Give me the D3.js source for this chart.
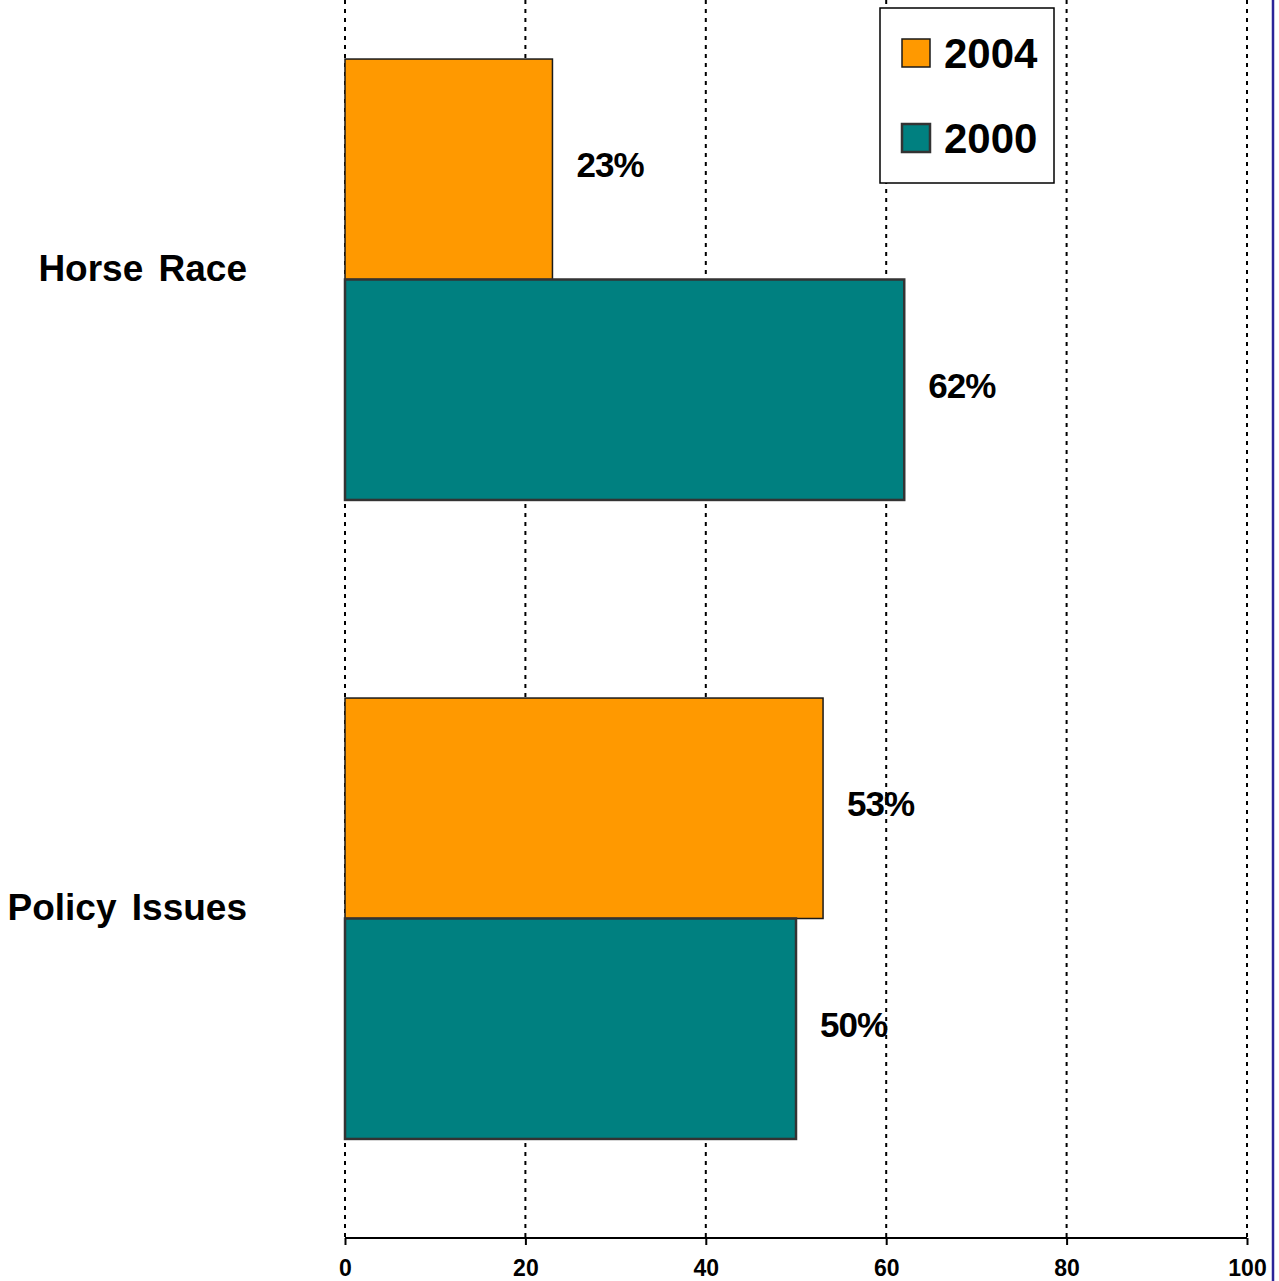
<!DOCTYPE html>
<html><head><meta charset="utf-8">
<script src="https://cdn.jsdelivr.net/npm/d3@7/dist/d3.min.js"></script>
<style>
html,body{margin:0;padding:0;background:#fff;}
svg{display:block;font-family:Arial,"Liberation Sans",Helvetica,sans-serif;}
</style></head>
<body>
<svg id="c" width="1279" height="1281"></svg>
<script>
const categories = ["Horse Race", "Policy Issues"];
const seriesNames = ["2004", "2000"];
const values2004 = [23, 53];
const values2000 = [62, 50];
const labels2004 = ["23%", "53%"];
const labels2000 = ["62%", "50%"];
const tickValues = [0, 20, 40, 60, 80, 100];
const colors = {"2004": "#FF9900", "2000": "#008080"};
const strokes = {"2004": "#1a1a1a", "2000": "#333333"};
const strokeW = {"2004": 1.5, "2000": 2.5};

const svg = d3.select("#c");
const x = d3.scaleLinear().domain([0, 100]).range([345, 1247]);
const y = d3.scaleBand().domain(categories).range([-40, 1238]).paddingInner(0.31).paddingOuter(0.155);
const ys = d3.scaleBand().domain(seriesNames).range([0, y.bandwidth()]);

// gridlines
svg.append("g").selectAll("line").data(tickValues).join("line")
  .attr("x1", d => x(d)).attr("x2", d => x(d))
  .attr("y1", 0).attr("y2", 1238)
  .attr("stroke", "#000").attr("stroke-width", 2).attr("stroke-dasharray", "4,5");

// right border line
svg.append("line").attr("x1", 1273).attr("x2", 1273).attr("y1", 0).attr("y2", 1281)
  .attr("stroke", "#2b2399").attr("stroke-width", 2.5);

const data = [];
categories.forEach((c, i) => {
  data.push({cat: c, s: "2004", v: values2004[i], lab: labels2004[i]});
  data.push({cat: c, s: "2000", v: values2000[i], lab: labels2000[i]});
});

svg.append("g").selectAll("rect").data(data).join("rect")
  .attr("x", x(0)).attr("y", d => y(d.cat) + ys(d.s))
  .attr("width", d => x(d.v) - x(0)).attr("height", ys.bandwidth())
  .attr("fill", d => colors[d.s]).attr("stroke", d => strokes[d.s]).attr("stroke-width", d => strokeW[d.s]);

svg.append("g").selectAll("text").data(data).join("text")
  .attr("x", d => x(d.v) + 24)
  .attr("y", d => y(d.cat) + ys(d.s) + ys.bandwidth() / 2 + 8)
  .attr("font-size", 35).attr("font-weight", "bold").attr("letter-spacing", -1)
  .attr("fill", "#000").text(d => d.lab);

// category labels
svg.append("g").selectAll("text").data(categories).join("text")
  .attr("x", 247).attr("y", d => y(d) + y.bandwidth() / 2 + 1)
  .attr("text-anchor", "end").attr("font-size", 37).attr("font-weight", "bold")
  .attr("word-spacing", 5).text(d => d);

// x axis
const ax = svg.append("g").attr("transform", "translate(0,1238)")
  .call(d3.axisBottom(x).tickValues(tickValues).tickSize(7).tickPadding(15).tickFormat(d3.format("d")));
ax.attr("font-size", 23);
ax.select(".domain").attr("stroke", "#000").attr("stroke-width", 2).attr("d", `M${x(0)},0H${x(100)}`);
ax.selectAll(".tick line").attr("stroke", "#000").attr("stroke-width", 2);
ax.selectAll(".tick text").attr("font-size", 23).attr("font-weight", "bold").attr("fill", "#000")
  .attr("font-family", "Arial,'Liberation Sans',sans-serif");

// legend
const lg = svg.append("g");
lg.append("rect").attr("x", 880).attr("y", 8).attr("width", 174).attr("height", 175)
  .attr("fill", "#fff").attr("stroke", "#000").attr("stroke-width", 1.5);
seriesNames.forEach((s, i) => {
  const cy = 53 + i * 85;
  lg.append("rect").attr("x", 902).attr("y", cy - 14).attr("width", 28).attr("height", 28)
    .attr("fill", colors[s]).attr("stroke", strokes[s]).attr("stroke-width", strokeW[s]);
  lg.append("text").attr("x", 944).attr("y", cy + 15).attr("font-size", 42).attr("font-weight", "bold")
    .text(s);
});
</script>
</body></html>
